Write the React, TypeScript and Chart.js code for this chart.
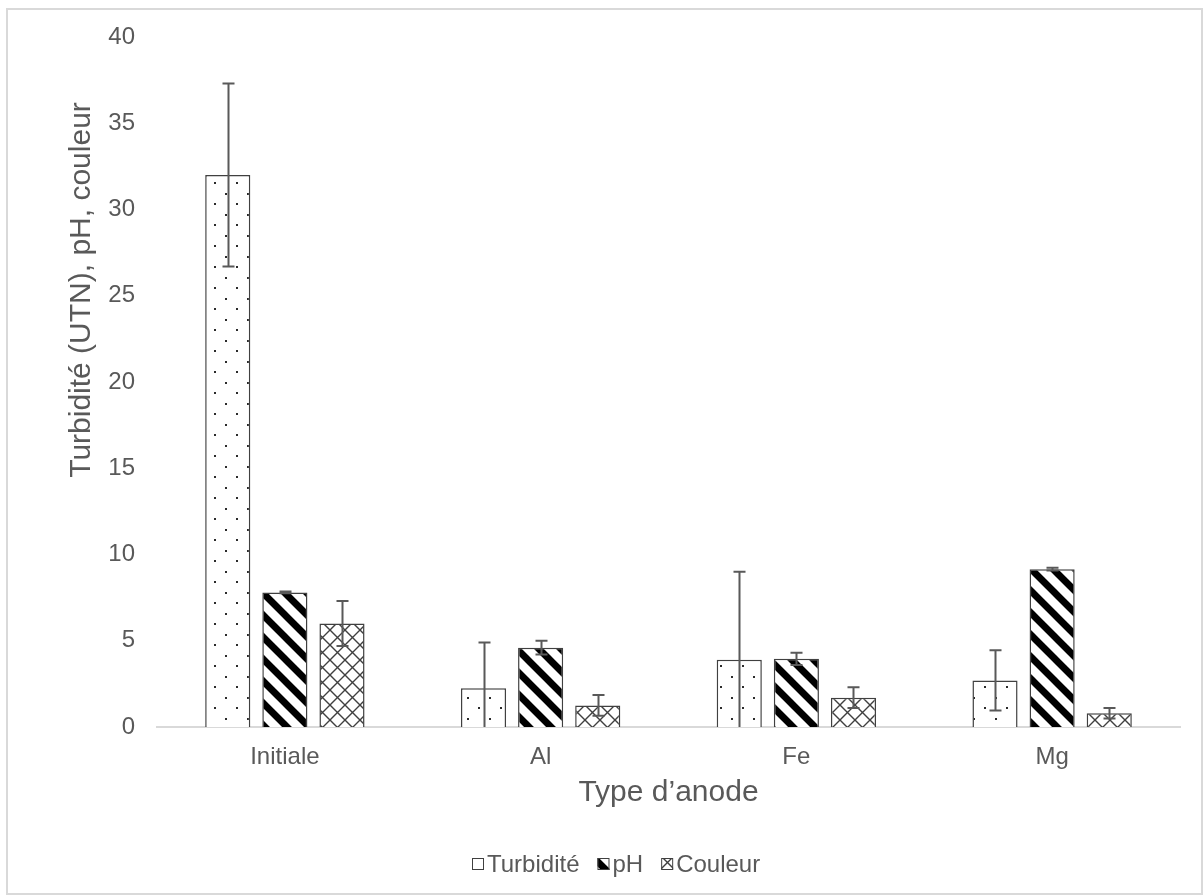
import React, { useEffect, useRef } from "react";
import { Chart, registerables } from "chart.js";

Chart.register(...registerables);

const categories = ["Initiale", "Al", "Fe", "Mg"];
const turbidite = [32.0, 2.25, 3.9, 2.7];
const turbiditeErr = [5.3, 2.65, 5.1, 1.75];
const ph = [7.8, 4.6, 3.95, 9.15];
const phErr = [0.05, 0.4, 0.35, 0.08];
const couleur = [6.0, 1.25, 1.7, 0.8];
const couleurErr = [1.3, 0.6, 0.6, 0.3];
const seriesNames = ["Turbidité", "pH", "Couleur"];
const yTicks = [0, 5, 10, 15, 20, 25, 30, 35, 40];
const xTitle = "Type d’anode";
const yTitle = "Turbidité (UTN), pH, couleur";

const FONT = "'Liberation Sans', Arial, sans-serif";
const TXT = "#595959";

function makeTile(w: number, h: number, draw: (c: CanvasRenderingContext2D) => void) {
  const cv = document.createElement("canvas");
  cv.width = w;
  cv.height = h;
  const c = cv.getContext("2d")!;
  c.fillStyle = "#ffffff";
  c.fillRect(0, 0, w, h);
  draw(c);
  return c.createPattern(cv, "repeat")!;
}

export default function App() {
  const ref = useRef<HTMLCanvasElement | null>(null);

  useEffect(() => {
    document.body.style.margin = "0";
    const canvas = ref.current!;
    const ctx = canvas.getContext("2d")!;

    const dots = makeTile(22, 21, (c) => {
      c.fillStyle = "#2b2b2b";
      c.fillRect(5, 4, 2, 2);
      c.fillRect(16, 14, 2, 2);
    });
    const stripes = makeTile(22, 22, (c) => {
      c.strokeStyle = "#000000";
      c.lineWidth = 7;
      c.beginPath();
      for (let k = -1; k <= 1; k++) {
        c.moveTo(-22 + k * 22, -22);
        c.lineTo(22 + k * 22 + 22, 22 + 22);
      }
      c.stroke();
    });
    const cross = makeTile(15, 15, (c) => {
      c.strokeStyle = "#404040";
      c.lineWidth = 1.4;
      c.beginPath();
      c.moveTo(0, 0);
      c.lineTo(15, 15);
      c.moveTo(15, 0);
      c.lineTo(0, 15);
      c.stroke();
    });

    const errs = [turbiditeErr, phErr, couleurErr];
    const pats = [dots, stripes, cross];
    const vals = [turbidite, ph, couleur];

    const frame = {
      id: "frame",
      beforeDraw(chart: any) {
        const c = chart.ctx;
        c.save();
        c.fillStyle = "#ffffff";
        c.fillRect(0, 0, chart.width, chart.height);
        c.strokeStyle = "#d9d9d9";
        c.lineWidth = 2;
        c.strokeRect(7, 9, 1195, 885);
        c.restore();
      },
    };

    const extras = {
      id: "extras",
      afterDraw(chart: any) {
        const c = chart.ctx;
        c.save();
        c.fillStyle = TXT;
        c.font = `30px ${FONT}`;
        c.textAlign = "center";
        c.textBaseline = "middle";
        c.translate(82, 290);
        c.rotate(-Math.PI / 2);
        c.fillText(yTitle, 0, 0);
        c.restore();

        c.save();
        c.font = `24px ${FONT}`;
        c.textBaseline = "middle";
        c.textAlign = "left";
        const box = 12;
        const gapBox = 3;
        const gapItem = 18;
        const widths = seriesNames.map((n) => box + gapBox + c.measureText(n).width);
        const total = widths.reduce((a, b) => a + b, 0) + gapItem * (seriesNames.length - 1);
        let x = Math.round(616 - total / 2);
        const y = 864;
        seriesNames.forEach((n, i) => {
          c.fillStyle = pats[i] as any;
          c.fillRect(x, y - box / 2, box, box);
          c.strokeStyle = "#404040";
          c.lineWidth = 1;
          c.strokeRect(x + 0.5, y - box / 2 + 0.5, box - 1, box - 1);
          c.fillStyle = TXT;
          c.fillText(n, x + box + gapBox, y + 1);
          x += widths[i] + gapItem;
        });
        c.restore();
      },
    };

    const errorBars = {
      id: "errorBars",
      afterDatasetsDraw(chart: any) {
        const c = chart.ctx;
        const ys = chart.scales.y;
        const area = chart.chartArea;
        c.save();
        c.strokeStyle = "#595959";
        c.lineWidth = 2;
        chart.data.datasets.forEach((ds: any, di: number) => {
          const meta = chart.getDatasetMeta(di);
          meta.data.forEach((bar: any, i: number) => {
            const v = ds.data[i];
            const e = errs[di][i];
            const yt = ys.getPixelForValue(v + e);
            const yb = Math.min(ys.getPixelForValue(v - e), area.bottom);
            const x = Math.round(bar.x) + 0.5;
            c.beginPath();
            c.moveTo(x, yt);
            c.lineTo(x, yb);
            c.moveTo(x - 6, yt);
            c.lineTo(x + 6, yt);
            if (v - e >= 0) {
              c.moveTo(x - 6, yb);
              c.lineTo(x + 6, yb);
            }
            c.stroke();
          });
        });
        c.restore();
      },
    };

    const chart = new Chart(ctx, {
      type: "bar",
      data: {
        labels: categories,
        datasets: seriesNames.map((n, i) => ({
          label: n,
          data: vals[i],
          backgroundColor: pats[i] as any,
          borderColor: "#404040",
          borderWidth: 1.5,
          categoryPercentage: 0.67,
          barPercentage: 0.79,
        })),
      },
      options: {
        responsive: false,
        animation: false,
        devicePixelRatio: 1,
        layout: { padding: { left: 0, right: 24, top: 37, bottom: 84 } },
        plugins: {
          tooltip: { enabled: false },
          legend: { display: false },
        },
        scales: {
          x: {
            grid: { display: false, drawTicks: false },
            border: { display: true, color: "#d9d9d9", width: 2 },
            ticks: { font: { family: FONT, size: 24 }, color: TXT, padding: 16 },
            title: {
              display: true,
              text: xTitle,
              font: { family: FONT, size: 30 },
              color: TXT,
              padding: { top: 0, bottom: 0 },
            },
            afterFit(s: any) {
              s.height = 84;
            },
          },
          y: {
            min: 0,
            max: 40,
            afterBuildTicks(s: any) {
              s.ticks = yTicks.map((v) => ({ value: v }));
            },
            grid: { display: false, drawTicks: false },
            border: { display: false },
            ticks: { font: { family: FONT, size: 24 }, color: TXT, padding: 22 },
            title: { display: false },
            afterFit(s: any) {
              s.width = 157;
            },
          },
        },
      },
      plugins: [frame, errorBars, extras],
    });

    return () => chart.destroy();
  }, []);

  return (
    <div style={{ width: 1204, height: 895 }}>
      <canvas ref={ref} width={1204} height={895} style={{ display: "block" }} />
    </div>
  );
}
